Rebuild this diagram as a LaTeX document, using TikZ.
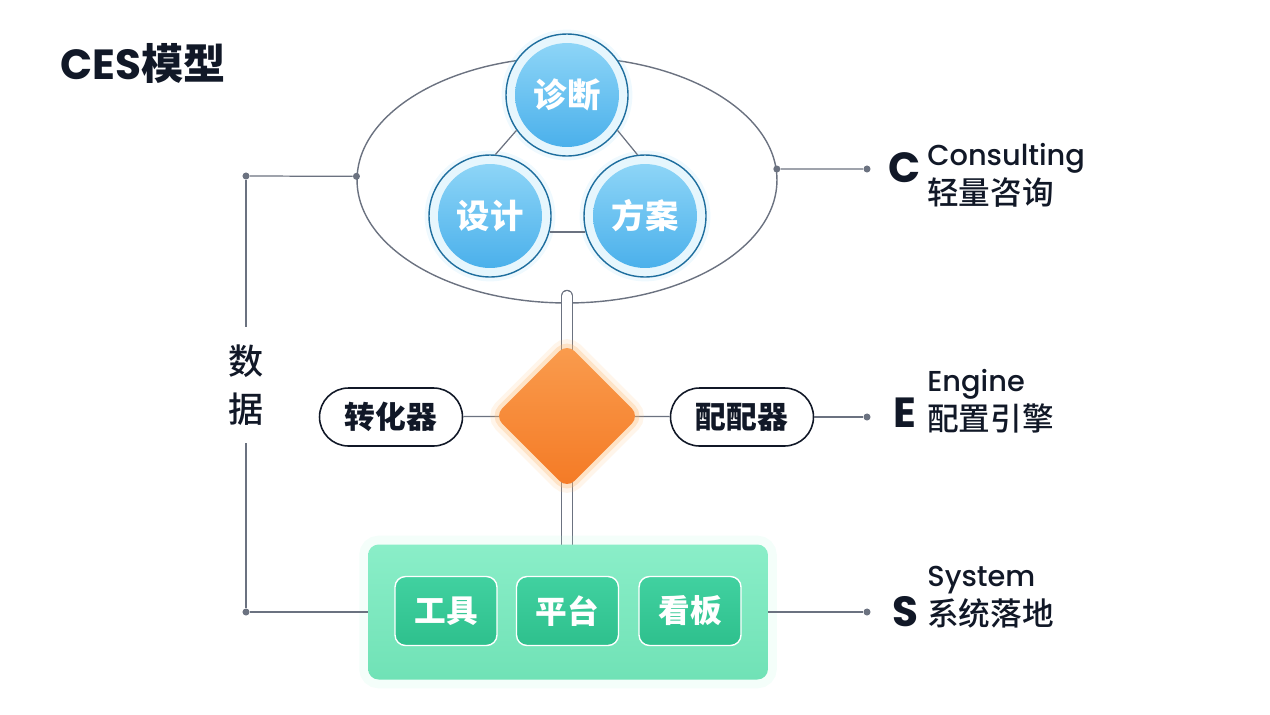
\documentclass[tikz,border=0pt]{standalone}
\usepackage{fontspec}
\setmainfont{Noto Sans CJK SC}
\newfontfamily\cjkmed{Noto Sans CJK SC Medium}
\newfontfamily\latinfont{Poppins}
\newfontfamily\latinmed{Poppins Medium}
\usetikzlibrary{shapes.geometric}

\definecolor{ink}{HTML}{111827}
\definecolor{linegrey}{HTML}{6B7280}
\definecolor{bubbleline}{HTML}{1E6E9E}
\definecolor{bubblering}{HTML}{E6F6FD}
\definecolor{bubbletop}{HTML}{93D8F8}
\definecolor{bubblebot}{HTML}{45ADEA}
\definecolor{gemtop}{HTML}{FA9C4E}
\definecolor{gembot}{HTML}{F47A25}
\definecolor{gemglow}{HTML}{FDBA74}
\definecolor{basetop}{HTML}{8AEEC8}
\definecolor{basebot}{HTML}{70E2B6}
\definecolor{baseglow}{HTML}{B4F5DC}
\definecolor{tiletop}{HTML}{41D1A0}
\definecolor{tilebot}{HTML}{2EC08D}

\begin{document}
\begin{tikzpicture}[x=0.02cm, y=-0.02cm,
  wire/.style={draw=linegrey, line width=0.7pt},
  pipe/.style={draw=linegrey, line width=0.7pt, double=white, double distance=0.2cm, line cap=round},
  dot/.style={circle, fill=linegrey, inner sep=0pt, minimum size=4pt},
  bubble/.style={circle, draw=bubbleline, line width=0.8pt, fill=bubblering, minimum size=2.44cm, inner sep=0pt,
    preaction={draw=bubbletop, line width=5pt, opacity=0.15},
    path picture={\shade[top color=bubbletop, bottom color=bubblebot] (path picture bounding box.center) circle (1.04cm);},
    text=white, font=\fontsize{19}{22}\selectfont\bfseries},
  gem/.style={diamond, minimum width=2.9cm, minimum height=2.9cm, inner sep=0pt, rounded corners=6pt,
    preaction={draw=gemglow, line width=10pt, opacity=0.15},
    preaction={draw=gemglow, line width=5pt, opacity=0.3},
    top color=gemtop, bottom color=gembot},
  pill/.style={rectangle, rounded corners=0.58cm, draw=ink, line width=0.9pt, fill=white,
    minimum width=2.86cm, minimum height=1.16cm, text=ink, font=\fontsize{17.5}{20}\selectfont\bfseries},
  base/.style={rectangle, rounded corners=6pt, minimum width=8cm, minimum height=2.7cm, inner sep=0pt,
    preaction={draw=baseglow, line width=10pt, opacity=0.15},
    top color=basetop, bottom color=basebot},
  tile/.style={rectangle, rounded corners=6pt, draw=white, line width=0.8pt, top color=tiletop, bottom color=tilebot,
    minimum width=2.04cm, minimum height=1.38cm, text=white, font=\fontsize{18}{20}\selectfont\bfseries},
  letter/.style={text=ink, inner sep=0pt, font=\latinfont\fontsize{24}{24}\selectfont\bfseries},
  enword/.style={anchor=west, inner sep=0pt, text=ink, font=\latinmed\fontsize{16.4}{18}\selectfont},
  cnword/.style={anchor=west, inner sep=0pt, text=ink, font=\cjkmed\fontsize{18}{20}\selectfont},
]
\useasboundingbox (0,0) rectangle (1270,714);

% Title
\node[anchor=west, inner sep=0pt, text=ink, font=\fontsize{24}{28}\selectfont\bfseries] (ttl) at (60,63) {{\latinfont CES}模型};

% C: ellipse with the three bubbles
\node[ellipse, draw=linegrey, line width=0.8pt, minimum width=8.4cm, minimum height=4.92cm, inner sep=0pt] (ell) at (567,180) {};
\node[bubble] (zd) at (567,95) {诊断};
\node[bubble] (sj) at (490,216) {设计};
\node[bubble] (fa) at (645,216) {方案};
\draw[wire] (zd.215) -- (sj.85);
\draw[wire] (zd.-35) -- (fa.97);
\draw[wire] (sj.-15) -- (fa.195);

% E: diamond, pipes and the two pills
\coordinate (pipetop) at (567,296);
\coordinate (core) at (567,416);
\coordinate (basetop) at (567,570);
\node[pill] (conv) at (391,417) {转化器};
\node[pill] (match) at (742,417) {配配器};
\draw[wire] (conv) -- (core);
\draw[wire] (core) -- (match);
\draw[pipe] (pipetop) -- (core);
\draw[pipe] (core) -- (basetop);
\node[gem] (dia) at (core) {};

% S: green base with tiles
\node[base] (sys) at (568,612) {};
\node[tile] (gj) at (446,611) {工具};
\node[tile] (pt) at (567.5,611) {平台};
\node[tile] (kb) at (690,611) {看板};

% Left data bracket
\node[dot] (dTL) at (246,176) {};
\node[dot] (dL0) at (ell.179) {};
\node[dot] (dBL) at (246,612) {};
\node[text=ink, align=center, inner sep=0pt, minimum height=2.32cm, font=\cjkmed\fontsize{20}{27}\selectfont] (data) at (246,385) {数\\据};
\draw[wire] (dTL) -- (dL0);
\draw[wire] (dTL) -- (data);
\draw[wire] (data) -- (dBL);
\draw[wire] (dBL) -- (sys);

% Right labels
\node[dot] (dC0) at (ell.3) {};
\node[dot] (dC) at (867,169) {};
\node[dot] (dE) at (867,417) {};
\node[dot] (dS) at (867,612) {};
\draw[wire] (dC0) -- (dC);
\draw[wire] (match) -- (dE);
\draw[wire] (sys) -- (dS);

\node[letter] (lC) at (905,168) {C};
\node[enword] (enC) at (927,158) {Consulting};
\node[cnword] (cnC) at (927,193) {轻量咨询};
\node[letter] (lE) at (905,413) {E};
\node[enword] (enE) at (927,384) {Engine};
\node[cnword] (cnE) at (927,418) {配置引擎};
\node[letter] (lS) at (905,612) {S};
\node[enword] (enS) at (927,580) {System};
\node[cnword] (cnS) at (927,613) {系统落地};
\end{tikzpicture}
\end{document}
